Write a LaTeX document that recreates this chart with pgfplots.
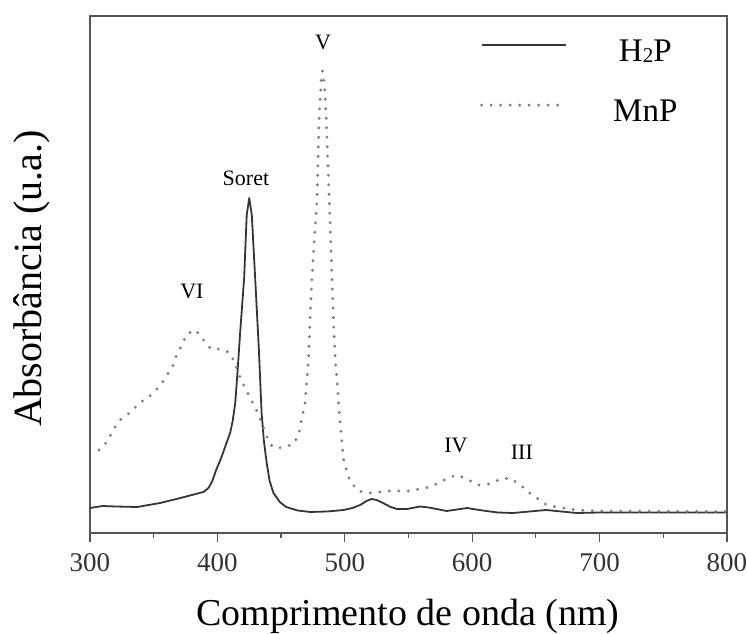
\documentclass[border=0pt]{standalone}
\usepackage{pgfplots}
\pgfplotsset{compat=1.18}
\usepackage{fontspec}
\setmainfont{Liberation Serif}
\definecolor{solidc}{HTML}{353535}
\definecolor{dotc}{HTML}{7E7E7E}
\definecolor{framec}{HTML}{555555}
\begin{document}
\begin{tikzpicture}
\useasboundingbox (0,0) rectangle (747pt,634pt);
\begin{axis}[
  at={(90pt,101pt)}, anchor=south west,
  scale only axis, width=637pt, height=517pt,
  xmin=300, xmax=800, ymin=0, ymax=517,
  xtick={300,400,...,800},
  minor xtick={350,450,...,750},
  ytick=\empty,
  xtick pos=bottom,
  tick align=outside,
  major tick length=9pt,
  minor tick length=5pt,
  every tick/.style={framec, line width=1.2pt},
  axis line style={framec, line width=1.4pt},
  /pgf/number format/assume math mode=true,
  xticklabel style={font=\fontsize{27}{30}\selectfont, text=black!80, anchor=center, yshift=-21pt},
  xlabel={Comprimento de onda (nm)},
  ylabel={Absorbância (u.a.)},
  xlabel style={font=\fontsize{38}{42}\selectfont, at={(axis description cs:0.499,-0.162)}, anchor=center},
  ylabel style={font=\fontsize{40}{44}\selectfont, at={(axis description cs:-0.091,0.492)}, anchor=center},
  legend cell align=center,
  legend style={draw=none, fill=none, at={(axis description cs:0.612,0.955)}, anchor=north west,
    font=\fontsize{33}{36}\selectfont, inner sep=0pt, row sep=37pt,
    nodes={inner sep=0pt},
    /tikz/every odd column/.append style={column sep=46pt}},
  legend image code/.code={\draw[#1] (0pt,6pt) -- (84pt,6pt);},
]
\addplot[solidc, line width=1.8pt, line join=round] coordinates {
(300,25) (310,27) (320,26.5) (337,26) (355,30) (371,35) (389,41) (393,45)
(396,52) (399,63) (403,75) (406,86) (410,100) (412,112) (414,130) (416,165)
(418,203) (421,255) (423,318) (425,335) (427,318) (429.6,256) (432.5,185)
(434.7,120) (436.5,92) (438.7,70) (441,52) (444,40) (449,31) (454,26) (463,22.5) (473,21)
(486,21.5) (499,23) (506,25) (512,28) (517,32) (521,34) (525,33) (530,30)
(536,26) (541,24) (549,24) (559,26.5) (566,25.5) (572,24) (580,22)
(588,23.5) (596,25) (603,23.5) (611,22) (620,20.5) (632,20) (645,21.5) (658,23)
(670,21.5) (682,20) (700,20.5) (750,20.5) (800,20.5)
};
\addlegendentry{H\raisebox{-0.04em}{\fontsize{21}{21}\selectfont 2}P}
\addplot[dotc, line width=3.2pt, line cap=round, dash pattern=on 0pt off 9.5pt] coordinates {
(307,83) (314,92) (318,103) (323.5,113) (331,120) (339,130) (347,137) (355,147)
(360,157) (365,167) (368,178) (372,188) (376,199) (383,203) (389,193) (395,184)
(403,184) (410,180) (414,169) (417,158) (421,147) (425,137) (429,127)
(432.7,117) (435.5,108) (438.6,97) (443.3,86) (451,85) (459.6,89) (463.8,98)
(465.4,109) (467,119) (468.8,130) (470,150) (471.4,170) (472.7,213) (474,250)
(476,292) (478.2,333) (480,420) (481.5,452) (482.5,462) (483.7,452) (485,428)
(487.8,333) (490,253) (491.5,200) (492.6,173) (494.5,143) (495.7,120)
(497.6,93) (499.4,71) (504,52) (510.6,42) (519,40) (535,42) (551,42) (567,46)
(575,51) (583,56) (589,58) (597,53) (605,48) (613,49) (620.5,53) (629,55)
(637,49) (645,40) (653,33) (658.5,28) (666,26) (682,23) (700,22) (800,21.5)
};
\addlegendentry{MnP}
\node[font=\fontsize{22}{24}\selectfont] at (axis cs:422.4,355) {Soret};
\node[font=\fontsize{22}{24}\selectfont] at (axis cs:380,242) {VI};
\node[font=\fontsize{22}{24}\selectfont] at (axis cs:483,491) {V};
\node[font=\fontsize{22}{24}\selectfont] at (axis cs:587.3,88) {IV};
\node[font=\fontsize{22}{24}\selectfont] at (axis cs:639,81) {III};
\end{axis}
\end{tikzpicture}
\end{document}
